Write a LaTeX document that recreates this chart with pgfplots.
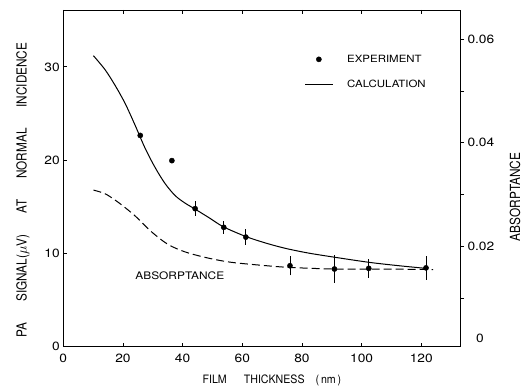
\documentclass[border=0pt]{standalone}
\usepackage{fontspec}
\setmainfont{TeX Gyre Heros}
\newfontfamily\cond[FakeStretch=0.85]{TeX Gyre Heros}
\newfontfamily\condx[FakeStretch=0.92]{TeX Gyre Heros}
\newfontfamily\wide[FakeStretch=1.15]{TeX Gyre Heros}
\usepackage{pgfplots}
\usepackage{pgfplotstable}
\pgfplotsset{compat=1.18}
\pgfplotsset{
  dotleg/.style={legend image code/.code={\path[draw=none,fill=none] (0bp,0bp) -- (27.7bp,0bp); \draw[##1] plot coordinates {(13.85bp,0bp)};}},
  lineleg/.style={legend image code/.code={\draw[##1] (0bp,0bp) -- (27.7bp,0bp);}},
}

\pgfplotstableread{
x y
25.8 22.65
36.4 19.95
}\expnoerr
\pgfplotstableread{
x y e
44.2 14.8 0.5
53.8 12.8 0.4
61.2 11.75 0.57
76.0 8.68 0.77
90.9 8.33 1.2
102.4 8.4 0.73
121.6 8.45 1.0
}\experr
\pgfplotstableread{
x y
10.1 31.2
14.0 29.7
17.4 28.0
20.7 26.1
24.0 23.8
27.4 21.3
30.8 19.2
34.1 17.5
37.5 16.2
40.8 15.4
44.2 14.75
49.0 13.8
53.7 12.85
61.3 11.8
68.0 11.1
74.4 10.55
82.0 10.05
90.8 9.6
102.4 9.05
112.0 8.7
121.5 8.4
}\calc
\pgfplotstableread{
x y
10.1 0.0309
14.0 0.0302
17.8 0.0288
21.0 0.0274
24.5 0.0257
29.7 0.0228
35.2 0.0204
40.8 0.0190
46.4 0.0181
52.0 0.0174
57.6 0.0169
68.8 0.0163
76.1 0.0160
90.6 0.0157
105.0 0.0157
124.0 0.0156
}\absorp

\begin{document}
\begin{tikzpicture}
\begin{axis}[
  name=main,
  scale only axis, width=396.7bp, height=336.7bp,
  xmin=0, xmax=133, ymin=0, ymax=36.1,
  xtick={0,20,...,120}, ytick={0,10,20,30},
  ytick pos=left, xtick pos=both,
  tick align=inside,
  major tick length=4bp,
  axis line style={line width=0.9bp},
  every tick/.style={line width=0.8bp, black},
  /pgf/number format/assume math mode=true,
  ticklabel style={font=\wide\fontsize{12}{14}\selectfont},
  xticklabel style={yshift=-4bp},
  xlabel={FILM\hspace{17bp}THICKNESS\hspace{11bp}(\,nm\,)},
  xlabel style={font=\condx\fontsize{11.6}{13}\selectfont, at={(axis description cs:0.526,-0.099)}, anchor=center},
  ylabel={PA\hspace{21bp}SIGNAL($\mu$V)\hspace{21bp}AT\hspace{21bp}NORMAL\hspace{21bp}INCIDENCE},
  ylabel style={font=\cond\fontsize{13.9}{15}\selectfont, at={(axis description cs:-0.1016,0.465)}, anchor=center},
  legend cell align=left,
  legend style={draw=none, fill=none, at={(axis cs:80.8,31.3)}, anchor=north west, inner sep=0pt,
    nodes={inner sep=0pt}, row sep=16bp, font=\wide\fontsize{10}{12}\selectfont,
    /tikz/every odd column/.append style={column sep=14bp}},
]
\addplot[only marks, mark=*, mark size=2.6bp, black, dotleg]
  table[x=x,y=y] {\expnoerr};
\addlegendentry{EXPERIMENT}
\addplot[only marks, mark=*, mark size=2.6bp, black, forget plot,
  error bars/.cd, y dir=both, y explicit,
  error bar style={line width=0.9bp, black},
  error mark options={mark size=2.5bp, line width=0.9bp, black}]
  table[x=x,y=y,y error=e] {\experr};
\addplot[black, line width=1bp, smooth, no markers, lineleg]
  table[x=x,y=y] {\calc};
\addlegendentry{CALCULATION}
\node[font=\wide\fontsize{10.4}{12}\selectfont] at (axis cs:39.06,7.63) {ABSORPTANCE};
\end{axis}
\begin{axis}[
  scale only axis, width=396.7bp, height=336.7bp,
  xmin=0, xmax=133, ymin=0.00074, ymax=0.06558,
  axis x line=none, axis y line*=right,
  clip=false,
  ytick={0.02,0.04,0.06}, minor ytick={0.01,0.03,0.05},
  scaled y ticks=false,
  tick align=outside, major tick length=4bp, minor tick length=4bp,
  axis line style={line width=0.9bp},
  every tick/.style={line width=0.8bp, black},
  every minor tick/.style={line width=0.8bp, black},
  /pgf/number format/assume math mode=true,
  yticklabel style={/pgf/number format/fixed, /pgf/number format/precision=2,
    /pgf/number format/fixed zerofill, font=\wide\fontsize{12}{14}\selectfont},
  ylabel={ABSORPTANCE},
  ylabel style={font=\cond\fontsize{14}{16}\selectfont, at={(axis description cs:1.1386,0.445)}, anchor=center},
]
\addplot[black, line width=1bp, smooth, no markers, dash pattern=on 8bp off 4bp]
  table[x=x,y=y] {\absorp};
\node[font=\wide\fontsize{12}{14}\selectfont, xshift=20bp, yshift=8.7bp] at (rel axis cs:1,0) {0};
\end{axis}
\pgfresetboundingbox
\path[use as bounding box] ([xshift=-63.3bp,yshift=-41.3bp]main.south west) rectangle ([xshift=64bp,yshift=10bp]main.north east);
\end{tikzpicture}
\end{document}
